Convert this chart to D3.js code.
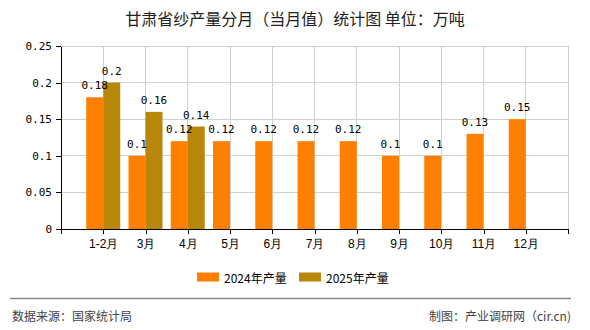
<!DOCTYPE html>
<html><head><meta charset="utf-8">
<script src="https://cdn.jsdelivr.net/npm/d3@7"></script>
<style>
html,body{margin:0;padding:0;background:#fff;}
svg{display:block;font-family:"Noto Sans CJK SC","DejaVu Sans",sans-serif;}
</style></head>
<body>
<svg id="c" width="590" height="330"></svg>
<script>
const categories = ["1-2月","3月","4月","5月","6月","7月","8月","9月","10月","11月","12月"];
const values2024 = [0.18,0.1,0.12,0.12,0.12,0.12,0.12,0.1,0.1,0.13,0.15];
const values2025 = [0.2,0.16,0.14,null,null,null,null,null,null,null,null];
const seriesNames = ["2024年产量","2025年产量"];
const yTicks = [0,0.05,0.1,0.15,0.2,0.25];
const yTickLabels = ["0","0.05","0.1","0.15","0.2","0.25"];
const titleText = "甘肃省纱产量分月（当月值）统计图 单位：万吨";
const sourceText = "数据来源：国家统计局";
const makerText = "制图：产业调研网（cir.cn)";

const colors = ["#FF8000","#B8860B"];
const svg = d3.select("#c");
const L = 61, R = 568, T = 46, B = 229;
const x = d3.scalePoint().domain(categories).range([L, R]).padding(1);
const y = d3.scaleLinear().domain([0, 0.25]).range([B, T]);
const bw = 17;

// title
svg.append("text").attr("x", 295).attr("y", 18).attr("text-anchor","middle")
  .attr("dominant-baseline","central").attr("font-size", 16).attr("fill","#222").text(titleText);

// grid
const g = svg.append("g");
g.selectAll(".hg").data(yTicks.filter(d=>d>0)).join("line")
  .attr("x1", L).attr("x2", R).attr("y1", d=>y(d)).attr("y2", d=>y(d))
  .attr("stroke","#d0d0d0").attr("stroke-width",1).attr("shape-rendering","crispEdges");
g.selectAll(".vg").data(categories).join("line")
  .attr("x1", d=>x(d)).attr("x2", d=>x(d)).attr("y1", T).attr("y2", B)
  .attr("stroke","#d0d0d0").attr("stroke-width",1).attr("shape-rendering","crispEdges");
g.append("line").attr("x1", R).attr("x2", R).attr("y1", T).attr("y2", B)
  .attr("stroke","#d0d0d0").attr("shape-rendering","crispEdges");

// bars
const bars = svg.append("g");
bars.selectAll(".b1").data(categories).join("rect")
  .attr("x", d=>x(d)-bw).attr("width", bw)
  .attr("y", (d,i)=>y(values2024[i])).attr("height", (d,i)=>B - y(values2024[i]))
  .attr("fill", colors[0]);
bars.selectAll(".b2").data(categories.filter((d,i)=>values2025[i]!=null)).join("rect")
  .attr("x", d=>x(d)).attr("width", bw)
  .attr("y", (d,i)=>y(values2025[i])).attr("height", (d,i)=>B - y(values2025[i]))
  .attr("fill", colors[1]);

// axes
const yAxis = d3.axisLeft(y).tickValues(yTicks).tickFormat((d,i)=>yTickLabels[i]).tickSize(5).tickSizeOuter(0);
const ya = svg.append("g").attr("transform", `translate(${L},0)`).call(yAxis);
ya.selectAll("text").attr("font-size", 11).attr("fill","#000").attr("font-family","'DejaVu Sans Mono',monospace").attr("dx", -1);
ya.selectAll("line,path").attr("stroke","#000").attr("shape-rendering","crispEdges");

const xAxis = d3.axisBottom(x).tickSize(5).tickSizeOuter(5);
const xa = svg.append("g").attr("transform", `translate(0,${B})`).call(xAxis);
xa.selectAll("text").attr("font-size", 12).attr("fill","#000").attr("dy","0.9em");
xa.selectAll("line,path").attr("stroke","#000").attr("shape-rendering","crispEdges");

// labels
const lab = svg.append("g").attr("font-size", 11).attr("text-anchor","middle").attr("fill","#000")
  .attr("font-family","'DejaVu Sans Mono',monospace");
lab.selectAll(".l1").data(categories).join("text")
  .attr("x", d=>x(d)-bw/2).attr("y", (d,i)=>y(values2024[i]) - 8)
  .text((d,i)=>String(values2024[i]));
lab.selectAll(".l2").data(categories.filter((d,i)=>values2025[i]!=null)).join("text")
  .attr("x", d=>x(d)+bw/2).attr("y", (d,i)=>y(values2025[i]) - 8)
  .text((d,i)=>String(values2025[i]));

// legend
const lg = svg.append("g");
const legX = [197, 299];
seriesNames.forEach((n,i)=>{
  lg.append("rect").attr("x", legX[i]).attr("y", 272.5).attr("width", 22).attr("height", 9).attr("fill", colors[i]);
  lg.append("text").attr("x", legX[i]+27).attr("y", 277).attr("dominant-baseline","central")
    .attr("font-size", 12).attr("fill","#000").text(n);
});

// footer
svg.append("line").attr("x1", 10).attr("x2", 571).attr("y1", 298.5).attr("y2", 298.5)
  .attr("stroke","#888").attr("stroke-width",1.3);
svg.append("text").attr("x", 12).attr("y", 315).attr("dominant-baseline","central")
  .attr("font-size", 12).attr("fill","#444").text(sourceText);
svg.append("text").attr("x", 571).attr("y", 315).attr("dominant-baseline","central").attr("text-anchor","end")
  .attr("font-size", 12).attr("fill","#444").text(makerText);
</script>
</body></html>
